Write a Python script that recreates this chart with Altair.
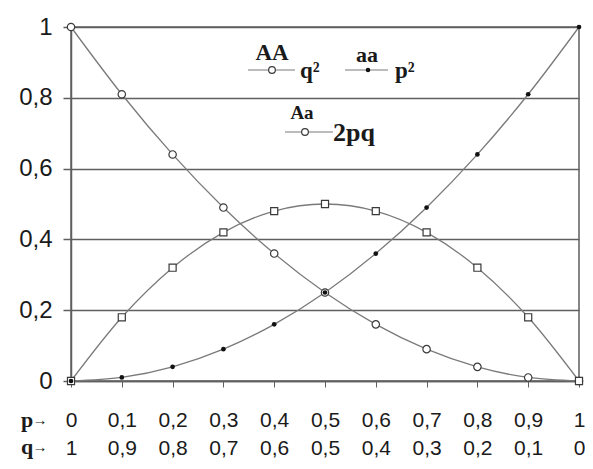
import altair as alt
import pandas as pd

# Values
p_vals = [0.0, 0.1, 0.2, 0.3, 0.4, 0.5, 0.6, 0.7, 0.8, 0.9, 1.0]
q2_vals = [1.0, 0.81, 0.64, 0.49, 0.36, 0.25, 0.16, 0.09, 0.04, 0.01, 0.0]   # AA
p2_vals = [0.0, 0.01, 0.04, 0.09, 0.16, 0.25, 0.36, 0.49, 0.64, 0.81, 1.0]   # aa
pq2_vals = [0.0, 0.18, 0.32, 0.42, 0.48, 0.50, 0.48, 0.42, 0.32, 0.18, 0.0]  # Aa
y_ticks = [0, 0.2, 0.4, 0.6, 0.8, 1.0]

rows = []
for name, vals in [("q2", q2_vals), ("p2", p2_vals), ("2pq", pq2_vals)]:
    for p, v in zip(p_vals, vals):
        rows.append({"p": p, "v": v, "s": name})
df = pd.DataFrame(rows)

SANS = "Liberation Sans"
SERIF = "Liberation Serif"
GRID = "#5f5f5f"

xscale = alt.Scale(domain=[0, 1], nice=False, zero=False)
yscale = alt.Scale(domain=[0, 1], nice=False)

x_axis = alt.Axis(
    values=p_vals, grid=False, tickSize=6, tickColor=GRID, tickWidth=1,
    domainColor=GRID, domainWidth=1.5, title=None,
    labelExpr="[datum.value == 0 ? '0' : datum.value >= 0.999 ? '1' : replace(format(datum.value, '.1f'), '.', ','), "
              "datum.value >= 0.999 ? '0' : datum.value == 0 ? '1' : replace(format(1 - datum.value, '.1f'), '.', ',')]",
    labelFont=SANS, labelFontSize=21, labelColor="#1a1a1a", labelPadding=22,
    labelLineHeight=28, labelBaseline="top", labelFlush=False, labelOverlap=False,
)
y_axis = alt.Axis(
    values=y_ticks, grid=True, gridColor=GRID, gridWidth=1.5, tickSize=8,
    tickColor=GRID, tickWidth=1.5, domainColor=GRID, domainWidth=1.5, title=None,
    labelExpr="datum.value == 0 ? '0' : datum.value >= 0.999 ? '1' : replace(format(datum.value, '.1f'), '.', ',')",
    labelFont=SANS, labelFontSize=24, labelColor="#1a1a1a", labelPadding=11,
    labelFlush=False,
)

base = alt.Chart(df).encode(
    x=alt.X("p:Q", scale=xscale, axis=x_axis),
    y=alt.Y("v:Q", scale=yscale, axis=y_axis),
)

lines = base.mark_line(interpolate="monotone", color="#7a7a7a", strokeWidth=1.3).encode(
    detail="s:N"
)
pts_q2 = base.transform_filter("datum.s == 'q2'").mark_point(
    shape="circle", size=55, filled=True, fill="white", stroke="#3a3a3a", strokeWidth=1.2, opacity=1
)
pts_pq = base.transform_filter("datum.s == '2pq'").mark_point(
    shape="square", size=50, filled=True, fill="white", stroke="#3a3a3a", strokeWidth=1.2, opacity=1
)
pts_p2 = base.transform_filter("datum.s == 'p2'").mark_point(
    shape="circle", size=22, filled=True, color="#111111", opacity=1
)

# Custom legend built from marks
def txt(t, x, y, size, align="center"):
    return alt.Chart(pd.DataFrame({"t": [t]})).mark_text(
        font=SERIF, fontWeight="bold", fontSize=size, align=align, baseline="middle", color="#1a1a1a"
    ).encode(text="t:N", x=alt.value(x), y=alt.value(y))

def seg(x1, x2, y):
    return alt.Chart(pd.DataFrame({"a": [0]})).mark_rule(color="#7a7a7a", strokeWidth=1.2).encode(
        x=alt.value(x1), x2=alt.value(x2), y=alt.value(y)
    )

def mk(x, y, kind):
    d = pd.DataFrame({"a": [0]})
    if kind == "open":
        m = alt.Chart(d).mark_point(shape="circle", size=45, filled=True, fill="white",
                                    stroke="#3a3a3a", strokeWidth=1.2, opacity=1)
    else:
        m = alt.Chart(d).mark_point(shape="circle", size=20, filled=True, color="#111111", opacity=1)
    return m.encode(x=alt.value(x), y=alt.value(y))

legend = [
    txt("AA", 201, 26, 23), seg(177, 224, 43), mk(201, 43, "open"), txt("q²", 229, 44, 23, "left"),
    txt("aa", 296, 28, 22), seg(274, 317, 43), mk(297, 43, "dot"), txt("p²", 324, 44, 23, "left"),
    txt("Aa", 231, 86, 19), seg(214, 262, 105), mk(234, 105, "open"), txt("2pq", 262, 106, 26, "left"),
]

prefix = [
    txt("p", -44, 393, 22), txt("→", -31, 393, 15),
    txt("q", -44, 420, 22), txt("→", -31, 420, 15),
]

chart = alt.layer(lines, pts_q2, pts_pq, pts_p2, *legend, *prefix).properties(
    width=508, height=354,
    autosize=alt.AutoSizeParams(type="none"),
    padding={"left": 63, "top": 19, "right": 6, "bottom": 80},
).configure_view(stroke=GRID, strokeWidth=1.5)

chart.save("out.html", embed_options={"renderer": "svg", "actions": False})
